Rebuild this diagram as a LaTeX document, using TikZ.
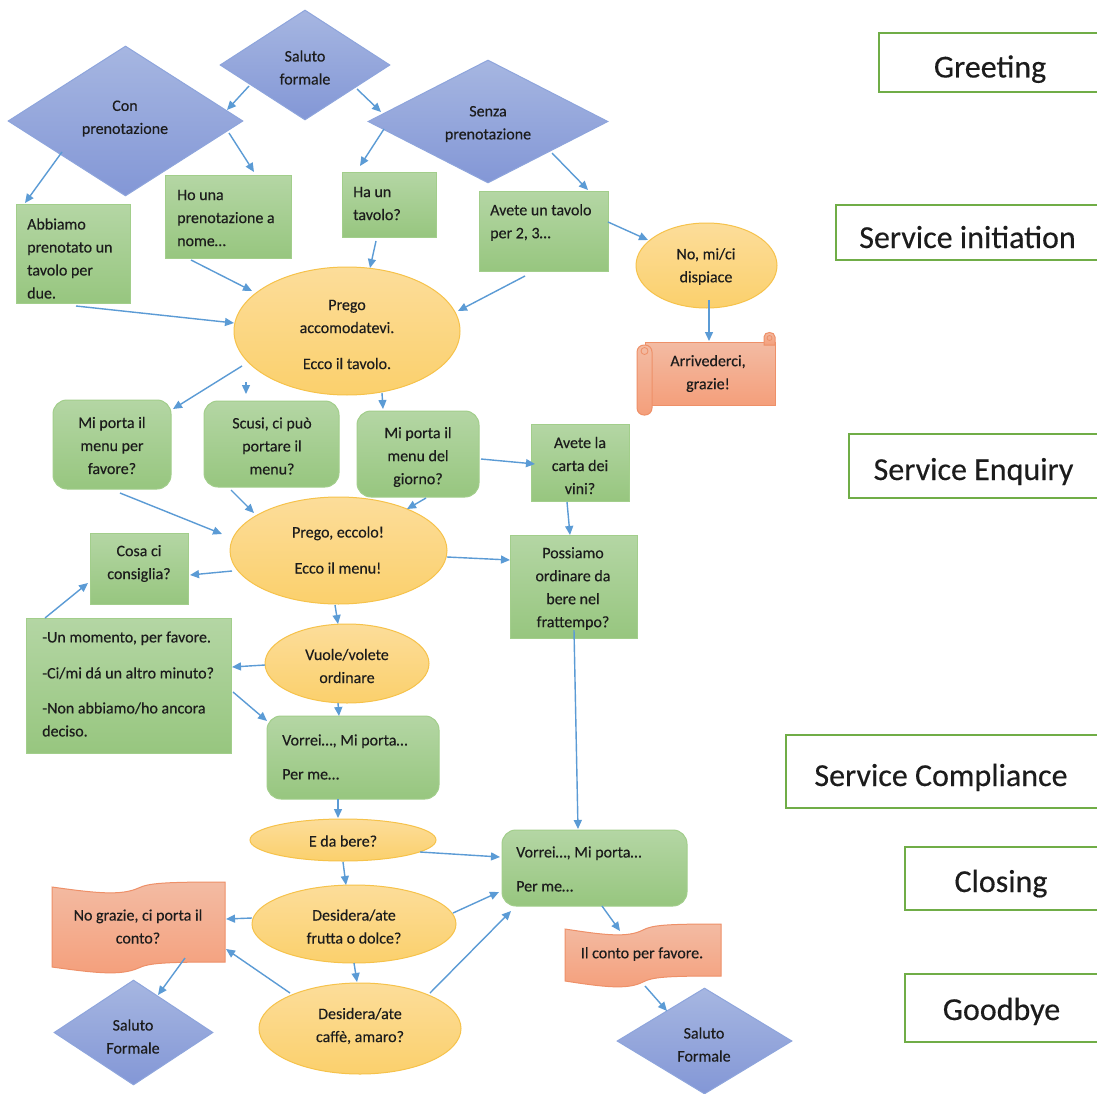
\documentclass[tikz,border=0pt]{standalone}
\usepackage{fontspec}
\setmainfont{Carlito}[FakeBold=0.3]
\usetikzlibrary{shapes.geometric,arrows.meta}
\definecolor{ink}{HTML}{1C1C1C}
\definecolor{gline}{HTML}{A2CE8B}
\definecolor{gtop}{HTML}{B4D6A4}
\definecolor{gbot}{HTML}{97C67F}
\definecolor{bline}{HTML}{8EA5DC}
\definecolor{btop}{HTML}{A6B6E1}
\definecolor{bbot}{HTML}{8397D6}
\definecolor{yline}{HTML}{F6C24A}
\definecolor{ytop}{HTML}{FCDD9A}
\definecolor{ybot}{HTML}{FBD06C}
\definecolor{sline}{HTML}{EE9068}
\definecolor{salTop}{HTML}{F3BBA3}
\definecolor{salBot}{HTML}{F49F7B}
\definecolor{lgreen}{HTML}{70AD47}
\definecolor{arrowc}{HTML}{5B9BD5}
\newcommand\arw[4]{\draw[conn] ([shift={#2}]#1.center) -- ([shift={#4}]#3.center);}
\begin{document}
\begin{tikzpicture}[x=1pt,y=-1pt,
 gbox/.style={draw=gline, line width=1pt, top color=gtop, bottom color=gbot, inner sep=0pt},
 rbox/.style={gbox, rounded corners=14pt},
 dia/.style={shape=diamond, draw=bline, line width=1pt, top color=btop, bottom color=bbot, inner sep=0pt},
 ell/.style={shape=ellipse, draw=yline, line width=1pt, top color=ytop, bottom color=ybot, inner sep=0pt},
 salm/.style={draw=sline, line width=1pt, top color=salTop, bottom color=salBot},
 lab/.style={draw=lgreen, line width=2.6pt, fill=white, inner sep=0pt},
 labtxt/.style={font=\fontsize{32}{38}\selectfont, text=ink, inner sep=0pt, anchor=base},
 txt/.style={font=\fontsize{16}{23}\selectfont, text=ink, inner sep=0pt, align=center, yshift=-1pt},
 ltxt/.style={txt, align=left, anchor=west},
 conn/.style={draw=arrowc, line width=1.4pt, -{Triangle[length=9pt,width=8pt]}},
]
\useasboundingbox (0,0) rectangle (1097,1094);
\clip (0,0) rectangle (1097,1094);
\fill[white] (0,0) rectangle (1097,1094);

% diamonds
\node[dia, minimum width=170pt, minimum height=110pt] (sal) at (305,65) {};
\node[dia, minimum width=235pt, minimum height=150pt] (con) at (125.5,121) {};
\node[dia, minimum width=240pt, minimum height=123pt] (sen) at (488,121.5) {};
\node[dia, minimum width=159pt, minimum height=105pt] (sbl) at (133.5,1032.5) {};
\node[dia, minimum width=175pt, minimum height=106pt] (sbr) at (704.5,1041) {};

% green boxes
\node[gbox, minimum width=114pt, minimum height=98pt] (abb) at (73,254) {};
\node[gbox, minimum width=126pt, minimum height=82pt] (hou) at (228,217) {};
\node[gbox, minimum width=94pt, minimum height=64pt] (hau) at (389,205) {};
\node[gbox, minimum width=129pt, minimum height=79pt] (ave) at (543.5,231.5) {};
\node[rbox, minimum width=118pt, minimum height=89pt] (mpf) at (112,444.5) {};
\node[rbox, minimum width=135pt, minimum height=86pt] (scu) at (271.5,444) {};
\node[rbox, minimum width=122pt, minimum height=86pt] (mpg) at (418,454) {};
\node[gbox, minimum width=98pt, minimum height=77pt] (car) at (580,462.5) {};
\node[gbox, minimum width=98pt, minimum height=71pt] (cos) at (139,568.5) {};
\node[gbox, minimum width=127pt, minimum height=103pt] (pos) at (573.5,586.5) {};
\node[gbox, minimum width=205pt, minimum height=135pt] (unm) at (128.5,685.5) {};
\node[rbox, minimum width=172pt, minimum height=83pt] (vol) at (353,757.5) {};
\node[rbox, minimum width=185pt, minimum height=76pt] (vor) at (594.5,868) {};

% ellipses
\node[ell, minimum width=226pt, minimum height=128pt] (pre) at (347,331) {};
\node[ell, minimum width=141pt, minimum height=85pt] (nom) at (706.5,265.5) {};
\node[ell, minimum width=217pt, minimum height=107pt] (ecc) at (338.5,550.5) {};
\node[ell, minimum width=164pt, minimum height=79pt] (vuo) at (347,663.5) {};
\node[ell, minimum width=186pt, minimum height=42pt] (ebe) at (343,840) {};
\node[ell, minimum width=204pt, minimum height=78pt] (fru) at (354,924) {};
\node[ell, minimum width=202pt, minimum height=91pt] (caf) at (360,1028.5) {};

% scroll
\path[salm] (645,342) rectangle (775,405);
\path[salm] (764,345) -- (764,337) .. controls (764,331) and (775,331) .. (775,337) -- (775,345) -- cycle;
\draw[sline, line width=0.8pt] (769.5,338) circle (2.5);
\path[salm, rounded corners=7pt] (637,345) rectangle (652,415);
\draw[sline, line width=0.8pt] (644.5,351) circle (3.5);

% waves
\path[salm] (52,887) .. controls (95,893) and (121,896) .. (138.5,888) .. controls (149,883) and (164.5,882) .. (225,882)
 -- (225,962) .. controls (164.5,962) and (149,963) .. (138.5,968) .. controls (121,976) and (95,973) .. (52,967) -- cycle;
\path[salm] (565,929) .. controls (604,935) and (627.4,938) .. (643,930) .. controls (652.4,925) and (666.4,924) .. (721,924)
 -- (721,976) .. controls (666.4,976) and (652.4,977) .. (643,982) .. controls (627.4,990) and (604,987) .. (565,981) -- cycle;

% labels
\node[lab, minimum width=222pt, minimum height=59pt] (lg1) at (990,62.5) {};
\node[lab, minimum width=265pt, minimum height=55pt] (lg2) at (968.5,232.5) {};
\node[lab, minimum width=252pt, minimum height=64pt] (lg3) at (975,466) {};
\node[lab, minimum width=315pt, minimum height=73pt] (lg4) at (943.5,771.5) {};
\node[lab, minimum width=196pt, minimum height=63pt] (lg5) at (1003,878.5) {};
\node[lab, minimum width=196pt, minimum height=68pt] (lg6) at (1003,1008) {};
\node[labtxt] (lg1T) at (990,77.5) {Greeting};
\node[labtxt] (lg2T) at (967.5,248) {Service initiation};
\node[labtxt] (lg3T) at (973.5,480) {Service Enquiry};
\node[labtxt] (lg4T) at (941,786) {Service Compliance};
\node[labtxt] (lg5T) at (1001,892) {Closing};
\node[labtxt] (lg6T) at (1001.5,1020) {Goodbye};

% texts
\node[txt] (salT) at (305,66.5) {Saluto\\formale};
\node[txt] (conT) at (125,117.5) {Con\\prenotazione};
\node[txt] (senT) at (488,123) {Senza\\prenotazione};
\node[ltxt] (abbT) at (27,257.5) {Abbiamo\\prenotato un\\tavolo per\\due.};
\node[ltxt] (houT) at (177,217) {Ho una\\prenotazione a\\nome…};
\node[ltxt] (hauT) at (353,202.5) {Ha un\\tavolo?};
\node[ltxt] (aveT) at (490,221.5) {Avete un tavolo\\per 2, 3…};
\node[txt] (nomT) at (706,265.5) {No, mi/ci\\dispiace};
\node[txt] (arr) at (708,372.5) {Arrivederci,\\grazie!};
\node[txt] (preT) at (347,333.5) {Prego\\accomodatevi.\\[13pt]Ecco il tavolo.};
\node[txt] (mpfT) at (112,444.5) {Mi porta il\\menu per\\favore?};
\node[txt] (scuT) at (272,445) {Scusi, ci può\\portare il\\menu?};
\node[txt] (mpgT) at (418,456) {Mi porta il\\menu del\\giorno?};
\node[txt] (carT) at (580,464.5) {Avete la\\carta dei\\vini?};
\node[txt] (eccT) at (338,549) {Prego, eccolo!\\[13pt]Ecco il menu!};
\node[txt] (cosT) at (139,562.5) {Cosa ci\\consiglia?};
\node[txt] (posT) at (573,587.5) {Possiamo\\ordinare da\\bere nel\\frattempo?};
\node[ltxt] (unmT) at (42,683) {-Un momento, per favore.\\[13pt]-Ci/mi dá un altro minuto?\\[12pt]-Non abbiamo/ho ancora\\deciso.};
\node[txt] (vuoT) at (347,665) {Vuole/volete\\ordinare};
\node[ltxt] (volT) at (282,756) {Vorrei…, Mi porta…\\[11pt]Per me…};
\node[txt] (ebeT) at (343,840) {E da bere?};
\node[ltxt] (vorT) at (516,868) {Vorrei…, Mi porta…\\[11pt]Per me…};
\node[txt] (fruT) at (354,925.5) {Desidera/ate\\frutta o dolce?};
\node[txt] (ngr) at (138,925.5) {No grazie, ci porta il\\conto?};
\node[txt] (cafT) at (360,1025) {Desidera/ate\\caffè, amaro?};
\node[txt] (ilc) at (642,953) {Il conto per favore.};
\node[txt] (sblT) at (133,1035.5) {Saluto\\Formale};
\node[txt] (sbrT) at (704,1043.5) {Saluto\\Formale};

% connectors
\arw{sal}{(-56,21)}{con}{(101.5,-11)}
\arw{sal}{(52,24)}{sen}{(-107,-9.5)}
\arw{con}{(-63.5,31)}{abb}{(-48,-51)}
\arw{con}{(103.5,12)}{hou}{(26,-45)}
\arw{sen}{(-104,7.5)}{hau}{(-29,-39)}
\arw{sen}{(64,31.5)}{ave}{(44.5,-41.5)}
\arw{ave}{(64.5,-9.5)}{nom}{(-58.5,-25.5)}
\arw{nom}{(2.5,34.5)}{arr}{(1,-32.5)}
\arw{abb}{(3,52)}{pre}{(-113,-8)}
\arw{hou}{(-37,43)}{pre}{(-95,-40)}
\arw{hau}{(-13,36)}{pre}{(23,-63)}
\arw{ave}{(-18.5,44.5)}{pre}{(111,-20)}
\arw{pre}{(-105,35)}{mpf}{(61,-35.5)}
\arw{pre}{(-101,51)}{scu}{(-25.5,-50)}
\arw{pre}{(35,62)}{mpg}{(-35,-45)}
\arw{mpf}{(8,48.5)}{ecc}{(-116.5,-16.5)}
\arw{scu}{(-40.5,46)}{ecc}{(-84.5,-37.5)}
\arw{mpg}{(8,44)}{ecc}{(68.5,-41.5)}
\arw{mpg}{(63,5)}{car}{(-45,1.5)}
\arw{car}{(-13,39.5)}{pos}{(-3.5,-51.5)}
\arw{ecc}{(-106.5,20.5)}{cos}{(51,6.5)}
\arw{ecc}{(108.5,6.5)}{pos}{(-63.5,-26.5)}
\arw{unm}{(-83.5,-67.5)}{cos}{(-51,14.5)}
\arw{ecc}{(-3.5,54.5)}{vuo}{(-9,-39.5)}
\arw{vuo}{(-82,1.5)}{unm}{(103.5,-18.5)}
\arw{unm}{(104.5,6.5)}{vol}{(-86,-36.5)}
\arw{vuo}{(-9,39.5)}{vol}{(-14,-41.5)}
\arw{vol}{(-15,41.5)}{ebe}{(-5,-22)}
\arw{pos}{(0.5,43.5)}{vor}{(-16.5,-39)}
\arw{ebe}{(77,12)}{vor}{(-94.5,-11)}
\arw{ebe}{(0,22)}{fru}{(-8,-39)}
\arw{fru}{(99,-11)}{vor}{(-95.5,24)}
\arw{fru}{(-102,-6)}{ngr}{(88,-7.5)}
\arw{fru}{(0,39)}{caf}{(-3,-46.5)}
\arw{caf}{(-70,-35.5)}{ngr}{(88,22.5)}
\arw{caf}{(70,-35.5)}{vor}{(-83.5,43)}
\arw{ngr}{(47,31.5)}{sbl}{(24.5,-37.5)}
\arw{vor}{(7.5,38)}{ilc}{(-22,-23)}
\arw{ilc}{(3,32)}{sbr}{(-37.5,-30)}
\end{tikzpicture}
\end{document}
